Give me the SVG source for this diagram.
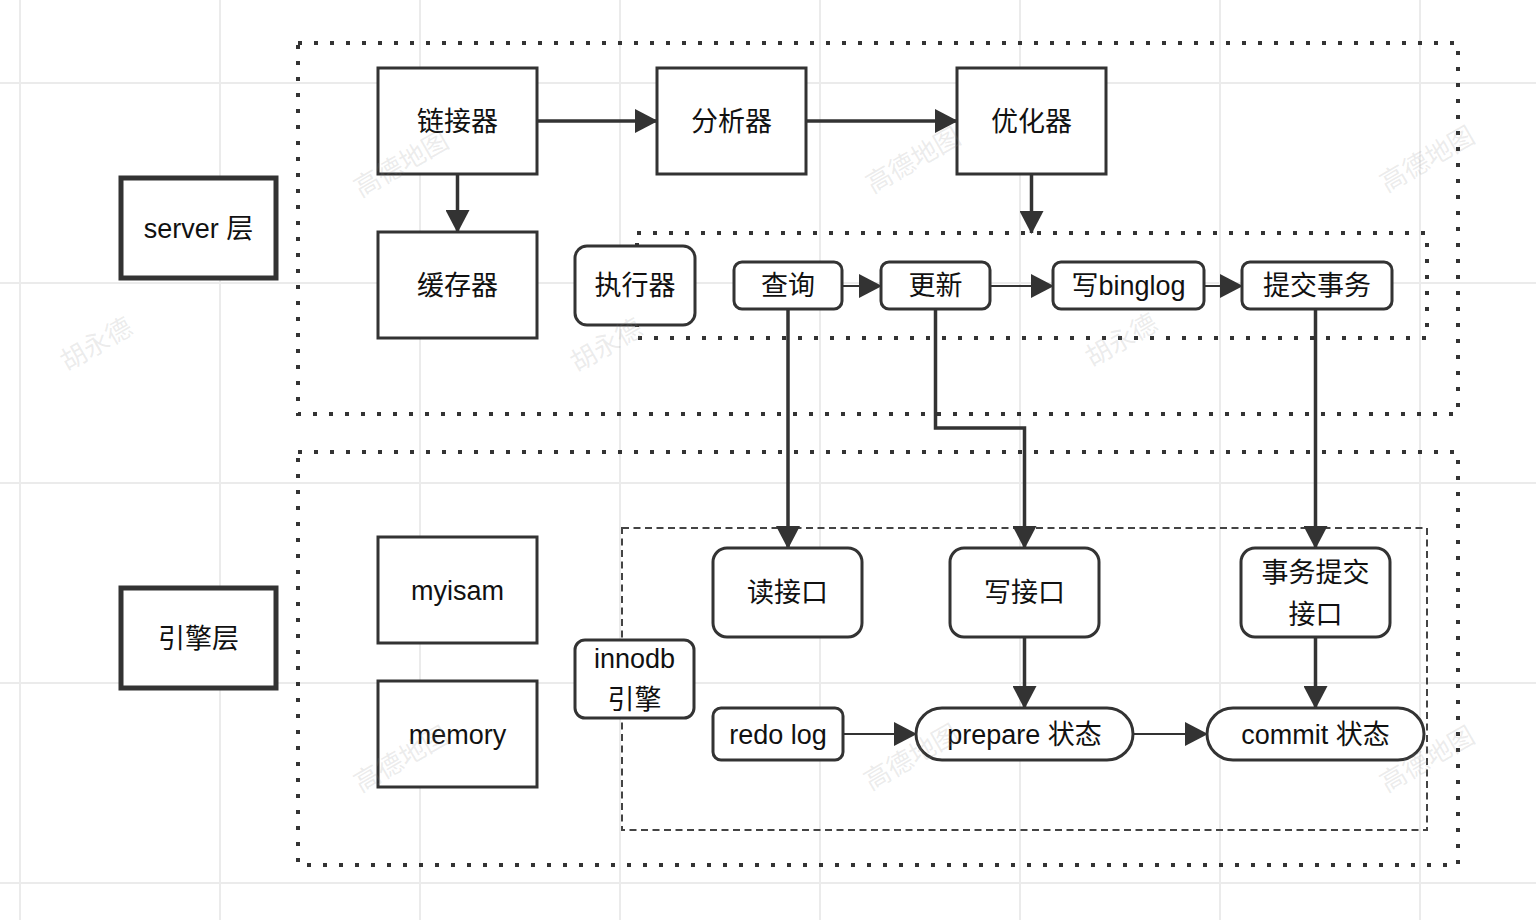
<svg xmlns="http://www.w3.org/2000/svg" width="1536" height="920" viewBox="0 0 1536 920">
<style>
.box{fill:#fff;stroke:#333;stroke-width:3}
.bold{stroke-width:5}
.lbl{font-family:"Liberation Sans","Noto Sans CJK SC",sans-serif;font-size:27px;fill:#111;text-anchor:middle}
.dot{fill:none;stroke:#333;stroke-width:4;stroke-dasharray:4 12}
.dash{fill:none;stroke:#444;stroke-width:2;stroke-dasharray:7 4.5}
.edge{fill:none;stroke:#333;stroke-width:3.5}
.thin{stroke-width:2}
.wm{font-family:"Noto Sans CJK SC",sans-serif;font-size:26px;fill:#888;fill-opacity:0.17}
.grid{stroke:#ebebeb;stroke-width:2}
</style>
<defs>
<marker id="ah" markerUnits="userSpaceOnUse" markerWidth="23" markerHeight="24" refX="22" refY="12" orient="auto"><path d="M0,0 L23,12 L0,24 z" fill="#333"/></marker>
</defs>
<rect width="1536" height="920" fill="#fff"/>
<g id="grid">
<path class="grid" d="M20,0V920M220,0V920M420,0V920M620,0V920M820,0V920M1020,0V920M1220,0V920M1420,0V920M0,83H1536M0,283H1536M0,483H1536M0,683H1536M0,883H1536"/>
</g>
<g id="containers">
<rect id="server-area" class="dot" x="298" y="43" width="1160" height="371"/>
<rect id="engine-area" class="dot" x="298" y="452" width="1160" height="413"/>
<rect id="executor-area" class="dot" x="637" y="233" width="790" height="105"/>
<rect id="innodb-area" class="dash" x="622" y="528" width="805" height="302"/>
</g>
<g id="connectors">
<path class="edge" d="M537,121H657" marker-end="url(#ah)"/>
<path class="edge" d="M806,121H957" marker-end="url(#ah)"/>
<path class="edge" d="M457.5,174V232" marker-end="url(#ah)"/>
<path class="edge" d="M1031.5,174V233" marker-end="url(#ah)"/>
<path class="edge thin" d="M842,286H881" marker-end="url(#ah)"/>
<path class="edge thin" d="M990,286H1053" marker-end="url(#ah)"/>
<path class="edge thin" d="M1204,286H1242" marker-end="url(#ah)"/>
<path class="edge" d="M788,309V548" marker-end="url(#ah)"/>
<path class="edge" d="M935.5,309V428H1024.5V548" marker-end="url(#ah)"/>
<path class="edge" d="M1315.5,309V548" marker-end="url(#ah)"/>
<path class="edge" d="M1024.5,637V708" marker-end="url(#ah)"/>
<path class="edge" d="M1315.5,637V708" marker-end="url(#ah)"/>
<path class="edge thin" d="M843,734H916" marker-end="url(#ah)"/>
<path class="edge thin" d="M1133,734H1207" marker-end="url(#ah)"/>
</g>
<g id="n-server"><rect class="box bold" x="121" y="178" width="155" height="100"/><text class="lbl" x="198.5" y="238">server 层</text></g>
<g id="n-engine"><rect class="box bold" x="121" y="588" width="155" height="100"/><text class="lbl" x="198.5" y="648">引擎层</text></g>
<g id="n-connector"><rect class="box" x="378" y="68" width="159" height="106"/><text class="lbl" x="457.5" y="131">链接器</text></g>
<g id="n-analyzer"><rect class="box" x="657" y="68" width="149" height="106"/><text class="lbl" x="731.5" y="131">分析器</text></g>
<g id="n-optimizer"><rect class="box" x="957" y="68" width="149" height="106"/><text class="lbl" x="1031.5" y="131">优化器</text></g>
<g id="n-cache"><rect class="box" x="378" y="232" width="159" height="106"/><text class="lbl" x="457.5" y="295">缓存器</text></g>
<g id="n-executor"><rect class="box" x="575" y="246" width="120" height="79" rx="12"/><text class="lbl" x="635" y="295">执行器</text></g>
<g id="n-query"><rect class="box" x="734" y="262" width="108" height="47" rx="8"/><text class="lbl" x="788" y="295">查询</text></g>
<g id="n-update"><rect class="box" x="881" y="262" width="109" height="47" rx="8"/><text class="lbl" x="935.5" y="295">更新</text></g>
<g id="n-binlog"><rect class="box" x="1053" y="262" width="151" height="47" rx="8"/><text class="lbl" x="1128.5" y="295">写binglog</text></g>
<g id="n-commit-tx"><rect class="box" x="1242" y="262" width="150" height="47" rx="8"/><text class="lbl" x="1317" y="295">提交事务</text></g>
<g id="n-myisam"><rect class="box" x="378" y="537" width="159" height="106"/><text class="lbl" x="457.5" y="600">myisam</text></g>
<g id="n-memory"><rect class="box" x="378" y="681" width="159" height="106"/><text class="lbl" x="457.5" y="744">memory</text></g>
<g id="n-innodb"><rect class="box" x="575" y="640" width="119" height="78" rx="10"/><text class="lbl" x="634.5" y="668">innodb</text><text class="lbl" x="634.5" y="709">引擎</text></g>
<g id="n-read"><rect class="box" x="713" y="548" width="149" height="89" rx="14"/><text class="lbl" x="787.5" y="602">读接口</text></g>
<g id="n-write"><rect class="box" x="950" y="548" width="149" height="89" rx="14"/><text class="lbl" x="1024.5" y="602">写接口</text></g>
<g id="n-txcommit"><rect class="box" x="1241" y="548" width="149" height="89" rx="14"/><text class="lbl" x="1315.5" y="582">事务提交</text><text class="lbl" x="1315.5" y="624">接口</text></g>
<g id="n-redo"><rect class="box" x="713" y="708" width="130" height="52" rx="8"/><text class="lbl" x="778" y="744">redo log</text></g>
<g id="n-prepare"><rect class="box" x="916" y="708" width="217" height="52" rx="26"/><text class="lbl" x="1024.5" y="744">prepare 状态</text></g>
<g id="n-commit"><rect class="box" x="1207" y="708" width="217" height="52" rx="26"/><text class="lbl" x="1315.5" y="744">commit 状态</text></g>
<g id="watermarks">
<text class="wm" transform="translate(400,162) rotate(-30)" text-anchor="middle" dominant-baseline="central">高德地图</text>
<text class="wm" transform="translate(912,158) rotate(-30)" text-anchor="middle" dominant-baseline="central">高德地图</text>
<text class="wm" transform="translate(1426,157) rotate(-30)" text-anchor="middle" dominant-baseline="central">高德地图</text>
<text class="wm" transform="translate(400,757) rotate(-30)" text-anchor="middle" dominant-baseline="central">高德地图</text>
<text class="wm" transform="translate(910,755) rotate(-30)" text-anchor="middle" dominant-baseline="central">高德地图</text>
<text class="wm" transform="translate(1426,757) rotate(-30)" text-anchor="middle" dominant-baseline="central">高德地图</text>
<text class="wm" transform="translate(95,342) rotate(-30)" text-anchor="middle" dominant-baseline="central">胡永德</text>
<text class="wm" transform="translate(605,343) rotate(-30)" text-anchor="middle" dominant-baseline="central">胡永德</text>
<text class="wm" transform="translate(1120,338) rotate(-30)" text-anchor="middle" dominant-baseline="central">胡永德</text>
</g>
</svg>
